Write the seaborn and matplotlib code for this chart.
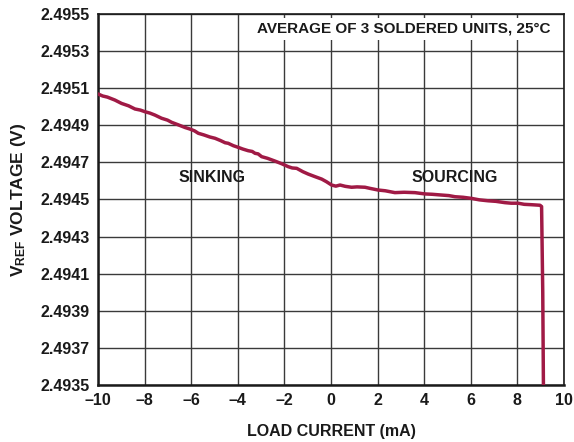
import matplotlib
matplotlib.use("Agg")
import matplotlib.pyplot as plt
import seaborn as sns
import pandas as pd

# Load regulation: average of 3 soldered units at 25 °C
load_current_ma = [
    -10.0, -9.798, -9.596, -9.272, -8.989, -8.686, -8.413, -8.181, -7.979,
    -7.776, -7.554, -7.271, -7.018, -6.836, -6.564, -6.260, -6.058, -5.856,
    -5.694, -5.452, -5.199, -4.977, -4.745, -4.543, -4.411, -4.189, -3.977,
    -3.785, -3.552, -3.380, -3.259, -3.128, -2.976, -2.724, -2.401, -2.118,
    -1.835, -1.663, -1.470, -1.208, -0.975, -0.702, -0.398, -0.196, 0.027,
    0.208, 0.390, 0.612, 0.885, 1.118, 1.461, 1.674, 2.027, 2.330, 2.745,
    3.139, 3.604, 3.846, 4.038, 4.352, 4.746, 5.059, 5.322, 5.666, 6.030,
    6.373, 6.747, 7.081, 7.465, 7.738, 8.031, 8.293, 8.597, 8.971, 9.04,
    9.09, 9.13,
]
vref_v = [
    2.495069, 2.495058, 2.495052, 2.495036, 2.495018, 2.495005, 2.494988,
    2.494982, 2.494973, 2.494966, 2.494955, 2.494938, 2.494928, 2.494916,
    2.494903, 2.494888, 2.494880, 2.494870, 2.494857, 2.494848, 2.494837,
    2.494830, 2.494818, 2.494806, 2.494803, 2.494790, 2.494781, 2.494772,
    2.494763, 2.494759, 2.494749, 2.494746, 2.494731, 2.494722, 2.494707,
    2.494693, 2.494677, 2.494670, 2.494668, 2.494650, 2.494637, 2.494624,
    2.494610, 2.494596, 2.494578, 2.494572, 2.494578, 2.494571, 2.494566,
    2.494568, 2.494566, 2.494560, 2.494551, 2.494547, 2.494537, 2.494539,
    2.494537, 2.494533, 2.494530, 2.494528, 2.494524, 2.494521, 2.494515,
    2.494512, 2.494506, 2.494498, 2.494493, 2.494490, 2.494483, 2.494480,
    2.494480, 2.494474, 2.494472, 2.494469, 2.494462, 2.494000, 2.493300,
]

x_ticks = [-10, -8, -6, -4, -2, 0, 2, 4, 6, 8, 10]
y_ticks = [2.4935, 2.4937, 2.4939, 2.4941, 2.4943, 2.4945, 2.4947, 2.4949,
           2.4951, 2.4953, 2.4955]

sns.set_style("white")
plt.rcParams["font.family"] = ["Liberation Sans", "DejaVu Sans"]
plt.rcParams["font.weight"] = "bold"
plt.rcParams["mathtext.fontset"] = "custom"
plt.rcParams["mathtext.rm"] = "Liberation Sans:bold"
plt.rcParams["mathtext.it"] = "Liberation Sans:bold"
plt.rcParams["mathtext.bf"] = "Liberation Sans:bold"
plt.rcParams["axes.unicode_minus"] = True

df = pd.DataFrame({"current": load_current_ma, "vref": vref_v})

fig = plt.figure(figsize=(5.74, 4.42), dpi=100)
ax = fig.add_axes([0.1707, 0.1290, 0.8118, 0.8393])

sns.lineplot(data=df, x="current", y="vref", ax=ax, color="#A01A45",
             linewidth=2.5, sort=False, zorder=3)

ax.set_xlim(-10, 10)
ax.set_ylim(2.4935, 2.4955)
ax.set_xticks(x_ticks)
ax.set_yticks(y_ticks)
ax.set_xticklabels([f"{t}".replace("-", "\u2013") for t in x_ticks])
ax.set_yticklabels([f"{t:.4f}" for t in y_ticks])
ax.tick_params(axis="both", length=0, labelsize=11.5, colors="#1a1a1a")
ax.tick_params(axis="x", pad=6)
ax.tick_params(axis="y", pad=6)

ax.grid(True, color="#3a3a3a", linewidth=1.0)
ax.set_axisbelow(True)
for side in ["left", "bottom"]:
    ax.spines[side].set_linewidth(1.8)
    ax.spines[side].set_color("#1a1a1a")
for side in ["top", "right"]:
    ax.spines[side].set_linewidth(1.2)
    ax.spines[side].set_color("#1a1a1a")

ax.set_xlabel("LOAD CURRENT (mA)", fontsize=11.5, fontweight="bold",
              labelpad=11, color="#1a1a1a")
ax.set_ylabel(r"V$_{\mathregular{REF}}$ VOLTAGE (V)", fontsize=12.5,
              fontweight="bold", labelpad=9, color="#1a1a1a")

ax.text(3.13, 2.49542, "AVERAGE OF 3 SOLDERED UNITS, 25°C", fontsize=11,
        fontweight="bold", ha="center", va="center", color="#1a1a1a",
        bbox=dict(facecolor="white", edgecolor="none", pad=3), zorder=4)
ax.text(-5.11, 2.494616, "SINKING", fontsize=11.5, fontweight="bold",
        ha="center", va="center", color="#1a1a1a", zorder=4)
ax.text(5.32, 2.494621, "SOURCING", fontsize=11.5, fontweight="bold",
        ha="center", va="center", color="#1a1a1a", zorder=4)

fig.savefig("out.png", dpi=100)
